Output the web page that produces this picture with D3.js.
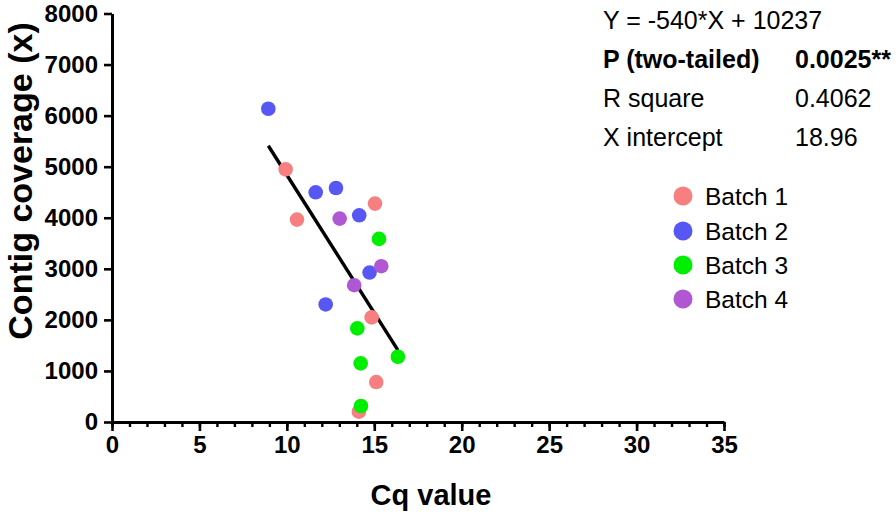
<!DOCTYPE html>
<html>
<head>
<meta charset="utf-8">
<script src="https://cdn.jsdelivr.net/npm/d3@7"></script>
<style>
  html, body { margin: 0; padding: 0; background: #fff; }
  svg { display: block; font-family: "Liberation Sans", Arial, sans-serif; }
</style>
</head>
<body>
<svg id="chart" width="896" height="512"></svg>
<script>
// ---- data ----
const batchNames = ["Batch 1", "Batch 2", "Batch 3", "Batch 4"];
const batchColors = ["#F77F7F", "#5757F4", "#00EE00", "#B057D3"];
const batch1 = [[9.93, 4948], [15.04, 4277], [10.58, 3964], [14.85, 2048], [15.11, 782], [14.12, 202]];
const batch2 = [[8.94, 6135], [11.65, 4498], [12.81, 4583], [14.14, 4048], [14.73, 2927], [12.22, 2302]];
const batch3 = [[15.27, 3586], [14.03, 1833], [16.35, 1278], [14.22, 1148], [14.24, 313]];
const batch4 = [[13.02, 3983], [15.40, 3051], [13.85, 2679]];
const xTicks = [0, 5, 10, 15, 20, 25, 30, 35];
const xMinorTicks = d3.range(0, 36, 1);
const yTicks = [0, 1000, 2000, 3000, 4000, 5000, 6000, 7000, 8000];
const fitSlope = -540;
const fitIntercept = 10237;
const statLabels = ["Y = -540*X + 10237", "P (two-tailed)", "R square", "X intercept"];
const statValues = ["", "0.0025**", "0.4062", "18.96"];
const statBold = [false, true, false, false];
const xTitle = "Cq value";
const yTitle = "Contig coverage (x)";

const series = [batch1, batch2, batch3, batch4];

// ---- layout ----
const svg = d3.select("#chart");
const x = d3.scaleLinear().domain([0, 35]).range([112, 724]);
const y = d3.scaleLinear().domain([0, 8000]).range([422, 13.5]);

// regression line (under points)
const allX = series.flat().map(d => d[0]);
const xr = d3.extent(allX);
svg.append("line")
  .attr("x1", x(xr[0])).attr("y1", y(fitSlope * xr[0] + fitIntercept))
  .attr("x2", x(xr[1])).attr("y2", y(fitSlope * xr[1] + fitIntercept))
  .attr("stroke", "#000").attr("stroke-width", 3.4);

// points
series.forEach((s, i) => {
  svg.append("g").selectAll("circle").data(s).join("circle")
    .attr("cx", d => x(d[0])).attr("cy", d => y(d[1]))
    .attr("r", 7.3).attr("fill", batchColors[i]);
});

// x axis minor ticks
const xMinor = svg.append("g").attr("transform", "translate(0,422)")
  .call(d3.axisBottom(x).tickValues(xMinorTicks).tickSize(5).tickFormat(""));
xMinor.select(".domain").remove();
xMinor.selectAll("line").attr("stroke-width", 2.4);

// x axis major
const xAxis = svg.append("g").attr("transform", "translate(0,422)")
  .call(d3.axisBottom(x).tickValues(xTicks).tickSize(9).tickSizeOuter(0).tickPadding(5).tickFormat(d3.format("d")));
xAxis.select(".domain").attr("stroke-width", 3);
xAxis.selectAll(".tick line").attr("stroke-width", 2.6);
xAxis.selectAll(".tick text")
  .attr("font-family", "Liberation Sans, Arial, sans-serif")
  .attr("font-size", 24).attr("font-weight", "bold").attr("fill", "#000");

// y axis
const yAxis = svg.append("g").attr("transform", "translate(112,0)")
  .call(d3.axisLeft(y).tickValues(yTicks).tickSize(8).tickSizeOuter(0).tickPadding(6).tickFormat(d3.format("d")));
yAxis.select(".domain").attr("stroke-width", 3);
yAxis.selectAll(".tick line").attr("stroke-width", 2.6);
yAxis.selectAll(".tick text")
  .attr("font-family", "Liberation Sans, Arial, sans-serif")
  .attr("font-size", 24).attr("font-weight", "bold").attr("fill", "#000");

// axis titles
svg.append("text")
  .attr("x", 431).attr("y", 505)
  .attr("text-anchor", "middle")
  .attr("font-size", 29).attr("font-weight", "bold")
  .text(xTitle);

svg.append("text")
  .attr("transform", "translate(32,181) rotate(-90)")
  .attr("text-anchor", "middle")
  .attr("font-size", 34).attr("font-weight", "bold")
  .text(yTitle);

// stats block
const statY = [29, 68, 107, 146];
statLabels.forEach((t, i) => {
  svg.append("text").attr("x", 603).attr("y", statY[i])
    .attr("font-size", 25).attr("font-weight", statBold[i] ? "bold" : "normal")
    .text(t);
  if (statValues[i]) {
    svg.append("text").attr("x", 795).attr("y", statY[i])
      .attr("font-size", 25).attr("font-weight", statBold[i] ? "bold" : "normal")
      .text(statValues[i]);
  }
});

// legend
const legY = [196, 231, 265, 299];
batchNames.forEach((n, i) => {
  svg.append("circle").attr("cx", 683).attr("cy", legY[i]).attr("r", 9.5).attr("fill", batchColors[i]);
  svg.append("text").attr("x", 705).attr("y", legY[i] + 9)
    .attr("font-size", 24.5).text(n);
});
</script>
</body>
</html>
